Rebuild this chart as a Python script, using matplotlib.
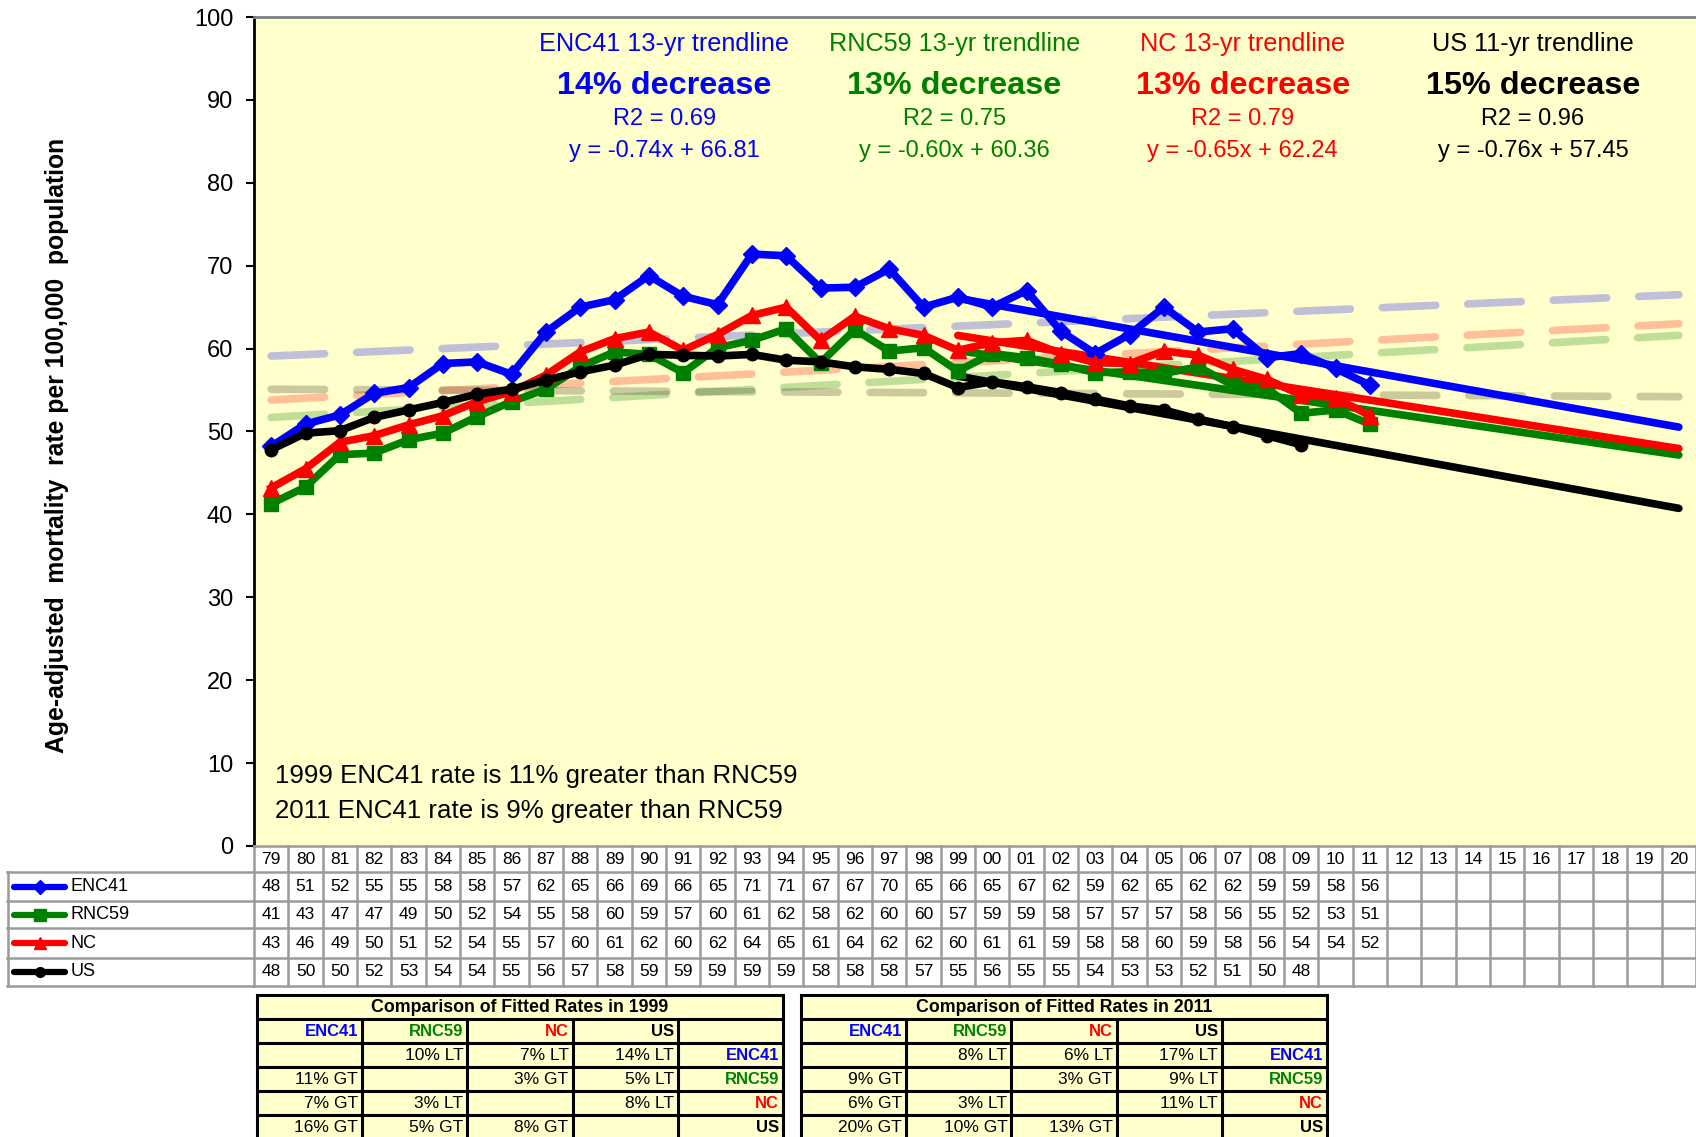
import matplotlib
matplotlib.use('Agg')
import matplotlib.pyplot as plt

plt.rcParams['font.family'] = ['Liberation Sans', 'DejaVu Sans']

# data (table shows the rounded values)
years = ['79', '80', '81', '82', '83', '84', '85', '86', '87', '88', '89', '90', '91', '92',
         '93', '94', '95', '96', '97', '98', '99', '00', '01', '02', '03', '04', '05', '06',
         '07', '08', '09', '10', '11', '12', '13', '14', '15', '16', '17', '18', '19', '20']
series_names = ['ENC41', 'RNC59', 'NC', 'US']
enc41 = [48.2, 50.9, 52.0, 54.6, 55.3, 58.2, 58.4, 56.9, 62.0, 65.0, 65.9, 68.8, 66.3, 65.3,
         71.4, 71.2, 67.3, 67.4, 69.6, 65.0, 66.2, 65.0, 67.0, 62.1, 59.4, 61.7, 65.0, 62.0,
         62.4, 58.9, 59.4, 57.6, 55.6]
rnc59 = [41.3, 43.3, 47.2, 47.4, 49.0, 49.8, 51.8, 53.6, 55.1, 57.8, 59.6, 59.3, 57.1, 60.1,
         61.0, 62.4, 58.3, 62.3, 59.7, 60.1, 57.3, 59.4, 58.9, 58.1, 57.1, 57.2, 57.0, 57.8,
         55.6, 55.2, 52.2, 52.6, 50.9]
nc = [43.2, 45.5, 48.7, 49.5, 50.8, 51.9, 53.6, 54.8, 56.8, 59.6, 61.2, 62.0, 59.8, 61.7,
      64.0, 65.0, 61.0, 63.9, 62.4, 61.6, 59.8, 60.7, 61.0, 59.4, 58.3, 58.2, 59.7, 59.2,
      57.5, 56.3, 54.4, 54.1, 51.9]
us = [47.8, 49.8, 50.1, 51.7, 52.6, 53.5, 54.5, 55.1, 56.2, 57.2, 58.0, 59.3, 59.2, 59.1,
      59.3, 58.6, 58.4, 57.8, 57.5, 57.0, 55.3, 56.0, 55.4, 54.7, 53.9, 53.1, 52.6, 51.5,
      50.6, 49.5, 48.4]
all_series = [enc41, rnc59, nc, us]

# fitted trendlines: y = slope*x + intercept, x = 1 for 1999, drawn 1999-2020
trend_slope = [-0.74, -0.60, -0.65, -0.76]
trend_icpt = [66.81, 60.36, 62.24, 57.45]
trend_start = '99'

# faint dashed lines (value at 1979 and at 2020)
dash_start = [59.1, 51.7, 53.8, 55.1]
dash_end = [66.5, 61.6, 63.0, 54.2]

trend_titles = ['ENC41 13-yr trendline', 'RNC59 13-yr trendline', 'NC 13-yr trendline', 'US 11-yr trendline']
trend_pct = ['14% decrease', '13% decrease', '13% decrease', '15% decrease']
trend_r2 = ['R2 = 0.69', 'R2 = 0.75', 'R2 = 0.79', 'R2 = 0.96']
trend_eq = ['y = -0.74x + 66.81', 'y = -0.60x + 60.36', 'y = -0.65x + 62.24', 'y = -0.76x + 57.45']

notes = ['1999 ENC41 rate is 11% greater than RNC59', '2011 ENC41 rate is 9% greater than RNC59']

cmp_titles = ['Comparison of Fitted Rates in 1999', 'Comparison of Fitted Rates in 2011']
cmp_1999 = [['', '10% LT', '7% LT', '14% LT'],
            ['11% GT', '', '3% GT', '5% LT'],
            ['7% GT', '3% LT', '', '8% LT'],
            ['16% GT', '5% GT', '8% GT', '']]
cmp_2011 = [['', '8% LT', '6% LT', '17% LT'],
            ['9% GT', '', '3% GT', '9% LT'],
            ['6% GT', '3% LT', '', '11% LT'],
            ['20% GT', '10% GT', '13% GT', '']]

colors = ['#0000FF', '#008000', '#FF0000', '#000000']
markers = ['D', 's', '^', 'o']
msizes = [9, 10, 11, 9]
bg = '#FFFFCC'

W, H = 1696, 1137
fig = plt.figure(figsize=(W / 100, H / 100), dpi=100)

# main plot area (pixel boxes converted to figure fractions)
pl, pr, pt, pb = 254, 1696, 17, 846
ax = fig.add_axes([pl / W, 1 - pb / H, (pr - pl) / W, (pb - pt) / H])
ax.set_facecolor(bg)
n = len(years)
ax.set_xlim(-0.5, n - 0.5)
ax.set_ylim(0, 100)
ax.set_yticks(range(0, 101, 10))
ax.tick_params(axis='y', direction='out', length=6, width=1.5, labelsize=17, pad=9)
ax.set_xticks([])
ax.spines['right'].set_visible(False)
ax.spines['left'].set_linewidth(2)
ax.spines['top'].set_color('#808080')
ax.spines['top'].set_linewidth(2)
ax.spines['bottom'].set_color('#909090')

# dashed faint lines
for i in range(4):
    ax.plot([0, n - 1], [dash_start[i], dash_end[i]], color=colors[i] if i < 3 else '#505030',
            alpha=0.25 if i != 3 else 0.3, lw=5.5, ls=(0, (7, 4.2)),
            dash_capstyle='round', zorder=1)

# trendlines
i0 = years.index(trend_start)
tx = list(range(i0, n))
for i in range(4):
    ty = [trend_slope[i] * (k - i0 + 1) + trend_icpt[i] for k in tx]
    ax.plot(tx, ty, color=colors[i], lw=5.5, solid_capstyle='round', zorder=2)

# data lines
for i in [1, 2, 0, 3]:
    v = all_series[i]
    ax.plot(range(len(v)), v, color=colors[i], lw=5.5, marker=markers[i], ms=msizes[i],
            zorder=3 + i * 0.1)

# trendline annotations
cx = [11.45, 19.9, 28.3, 36.75]
for i in range(4):
    ax.text(cx[i], 96.8, trend_titles[i], color=colors[i], fontsize=18.2, ha='center', va='center')
    ax.text(cx[i], 91.7, trend_pct[i], color=colors[i], fontsize=23.3, fontweight='bold',
            ha='center', va='center')
    ax.text(cx[i], 87.7, trend_r2[i], color=colors[i], fontsize=17, ha='center', va='center')
    ax.text(cx[i], 83.8, trend_eq[i], color=colors[i], fontsize=17, ha='center', va='center')

ax.text(0.12, 8.4, notes[0], fontsize=18.6, ha='left', va='center')
ax.text(0.12, 4.2, notes[1], fontsize=18.6, ha='left', va='center')

fig.text(57 / W, 1 - 445 / H, 'Age-adjusted  mortality  rate per 100,000  population',
         rotation=90, fontsize=17.8, fontweight='bold', ha='center', va='center')

# data table under the plot
tb_top, tb_bot = 846, 986
tab = fig.add_axes([pl / W, 1 - tb_bot / H, (pr - pl) / W, (tb_bot - tb_top) / H])
tab.set_xlim(-0.5, n - 0.5)
tab.set_ylim(tb_bot - tb_top, 0)
tab.axis('off')
rows = [0, 26, 55, 82, 112, 140]
gc = '#9a9a9a'
for r in rows:
    tab.plot([-0.5, n - 0.5], [r, r], color=gc, lw=1.8, clip_on=False)
for k in range(n + 1):
    tab.plot([k - 0.5, k - 0.5], [0, rows[-1]], color=gc, lw=1.8, clip_on=False)
for k, yl in enumerate(years):
    tab.text(k, (rows[0] + rows[1]) / 2, yl, fontsize=12.5, ha='center', va='center')
for i, v in enumerate(all_series):
    ym = (rows[i + 1] + rows[i + 2]) / 2
    for k, val in enumerate(v):
        tab.text(k, ym, '%d' % round(val), fontsize=12.5, ha='center', va='center')

# row labels with legend keys
lab = fig.add_axes([7 / W, 1 - tb_bot / H, (pl - 7) / W, (tb_bot - tb_top) / H])
lab.set_xlim(7, pl)
lab.set_ylim(tb_bot - tb_top, 0)
lab.axis('off')
for r in rows[1:]:
    lab.plot([7, pl], [r, r], color=gc, lw=1.8, clip_on=False)
lab.plot([7.5, 7.5], [rows[1], rows[-1]], color=gc, lw=1.8, clip_on=False)
for i in range(4):
    ym = (rows[i + 1] + rows[i + 2]) / 2
    lab.plot([14, 65], [ym, ym], color=colors[i], lw=4.5, solid_capstyle='round', clip_on=False)
    lab.plot([40], [ym], color=colors[i], marker=markers[i], ms=msizes[i] - 2, clip_on=False)
    lab.text(71, ym, series_names[i], fontsize=13, ha='left', va='center')

# comparison tables
ov = fig.add_axes([0, 0, 1, 1])
ov.set_xlim(0, W)
ov.set_ylim(H, 0)
ov.axis('off')
row_y = [995, 1019, 1043, 1067, 1091, 1115, 1139]
for x0, title, cells in [(257, cmp_titles[0], cmp_1999), (801, cmp_titles[1], cmp_2011)]:
    cw = 105.2
    x1 = x0 + 5 * cw
    ov.add_patch(plt.Rectangle((x0, row_y[0]), x1 - x0, row_y[-1] - row_y[0], facecolor=bg,
                               edgecolor='black', lw=2.2, zorder=1))
    for r in row_y[1:-1]:
        ov.plot([x0, x1], [r, r], color='black', lw=2.2, zorder=2)
    for c in range(1, 5):
        ov.plot([x0 + c * cw, x0 + c * cw], [row_y[1], row_y[-1]], color='black', lw=2.2, zorder=2)
    ov.text((x0 + x1) / 2, (row_y[0] + row_y[1]) / 2 + 1, title, fontsize=12.8, fontweight='bold',
            ha='center', va='center')
    for c in range(4):
        ov.text(x0 + (c + 1) * cw - 4, (row_y[1] + row_y[2]) / 2 + 1, series_names[c], color=colors[c],
                fontsize=12, fontweight='bold', ha='right', va='center')
    for r in range(4):
        ym = (row_y[r + 2] + row_y[r + 3]) / 2 + 1
        for c in range(4):
            if cells[r][c]:
                ov.text(x0 + (c + 1) * cw - 4, ym, cells[r][c], fontsize=12.5, ha='right', va='center')
        ov.text(x1 - 4, ym, series_names[r], color=colors[r], fontsize=12, fontweight='bold',
                ha='right', va='center')

fig.savefig('out.png', dpi=100, facecolor='white')
